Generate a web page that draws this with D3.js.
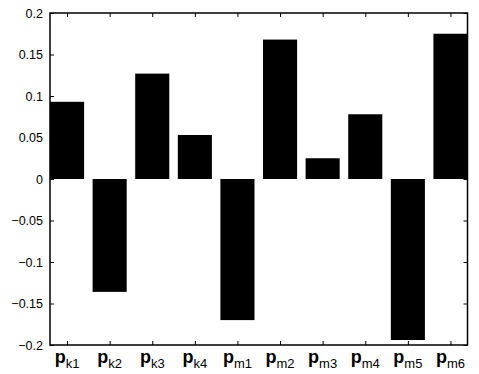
<!DOCTYPE html>
<head>
  <meta charset="utf-8">
</head>
<style>
body { margin: 0; background: #fff; }
.tick text { font-family: Arial, "Liberation Sans", sans-serif; font-size: 12.5px; fill: #000; }
.tick line { stroke: #000; }
.domain { stroke: none; }
</style>
<body>
<script src="https://d3js.org/d3.v7.min.js"></script>
<script>
var width = 479, height = 374;
var margin = {top: 13, right: 11.5, bottom: 29, left: 50};

var letters = ["k", "k", "k", "k", "m", "m", "m", "m", "m", "m"];
var indices = ["1", "2", "3", "4", "1", "2", "3", "4", "5", "6"];
var values = [0.093, -0.136, 0.127, 0.053, -0.170, 0.168, 0.025, 0.078, -0.194, 0.175];
var yTicks = [-0.2, -0.15, -0.1, -0.05, 0, 0.05, 0.1, 0.15, 0.2];

var svg = d3.select("body").append("svg")
  .attr("width", width)
  .attr("height", height);

var x = d3.scaleLinear().domain([0.6, 10.4]).range([margin.left, width - margin.right]);
var y = d3.scaleLinear().domain([-0.2, 0.2]).range([height - margin.bottom, margin.top]);
var barW = (x(1.8) - x(1));

var g = svg.append("g");

g.selectAll(".bar")
  .data(values)
  .enter().append("rect")
  .attr("class", "bar")
  .attr("x", function(d, i) { return x(i + 1) - barW / 2; })
  .attr("width", barW)
  .attr("y", function(d) { return y(Math.max(0, d)); })
  .attr("height", function(d) { return Math.abs(y(d) - y(0)); })
  .style("fill", "#000");

// left axis with inward ticks
svg.append("g")
  .attr("transform", "translate(" + margin.left + ",0)")
  .call(d3.axisLeft(y).tickValues(yTicks).tickSize(-4).tickPadding(7)
    .tickFormat(function(d) { return d === 0 ? "0" : d3.format("")(+d.toFixed(2)); }));

// right axis ticks
svg.append("g")
  .attr("transform", "translate(" + (width - margin.right) + ",0)")
  .call(d3.axisRight(y).tickValues(yTicks).tickSize(-4).tickFormat(""));

var idx = d3.range(1, 11);
svg.append("g")
  .attr("transform", "translate(0," + (height - margin.bottom) + ")")
  .call(d3.axisBottom(x).tickValues(idx).tickSize(-4).tickFormat(""));
svg.append("g")
  .attr("transform", "translate(0," + margin.top + ")")
  .call(d3.axisTop(x).tickValues(idx).tickSize(-4).tickFormat(""));

// frame
svg.append("rect")
  .attr("x", margin.left)
  .attr("y", margin.top)
  .attr("width", width - margin.right - margin.left)
  .attr("height", height - margin.bottom - margin.top)
  .style("fill", "none")
  .style("stroke", "#000")
  .style("stroke-width", 1.5);

// category labels p_{k1} ...
var lab = svg.selectAll(".lab")
  .data(idx)
  .enter().append("text")
  .attr("class", "lab")
  .attr("x", function(d) { return x(d); })
  .attr("y", 363)
  .attr("text-anchor", "middle")
  .attr("font-family", "Arial, 'Liberation Sans', sans-serif")
  .style("fill", "#000");
lab.append("tspan")
  .attr("font-size", 18)
  .attr("font-weight", "bold")
  .text("p");
lab.append("tspan")
  .attr("font-size", 13)
  .attr("dy", 5)
  .text(function(d, i) { return letters[i] + indices[i]; });
</script>
</body>
